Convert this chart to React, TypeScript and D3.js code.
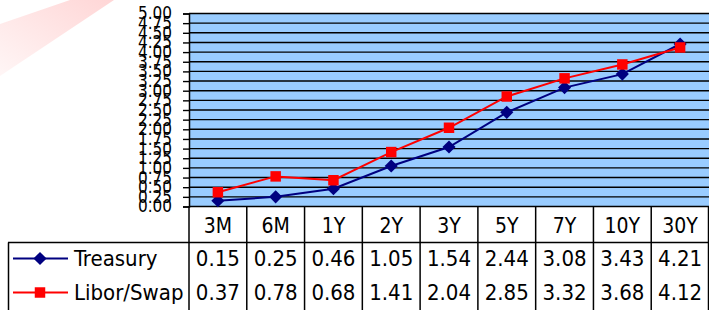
import React, { useRef, useEffect } from 'react';
import * as d3 from 'd3';

const categories = ['3M', '6M', '1Y', '2Y', '3Y', '5Y', '7Y', '10Y', '30Y'];
const treasury = [0.15, 0.25, 0.46, 1.05, 1.54, 2.44, 3.08, 3.43, 4.21];
const liborSwap = [0.37, 0.78, 0.68, 1.41, 2.04, 2.85, 3.32, 3.68, 4.12];
const yTicks = d3.range(0, 5.001, 0.25);

const seriesList = [
    { name: 'Treasury', values: treasury, color: '#000080', marker: 'diamond' },
    { name: 'Libor/Swap', values: liborSwap, color: '#ff0000', marker: 'square' },
];

const FONT = '"DejaVu Sans Condensed", "DejaVu Sans", sans-serif';

const App: React.FC = () => {
    const svgRef = useRef<SVGSVGElement>(null);

    useEffect(() => {
        if (!svgRef.current) return;

        const width = 709;
        const height = 310;
        const plotLeft = 189;
        const plotRight = 709;
        const plotTop = 13.5;
        const plotBottom = 206.5;
        const headerBottom = 242.5;
        const rowH = 34;

        const svg = d3.select(svgRef.current);
        svg.selectAll('*').remove();
        svg.attr('width', width).attr('height', height);

        // faint watermark stripe in the corner
        const grad = svg.append('defs').append('linearGradient')
            .attr('id', 'wm').attr('x1', '0').attr('y1', '1').attr('x2', '1').attr('y2', '0');
        grad.append('stop').attr('offset', '0').attr('stop-color', '#fff6f6');
        grad.append('stop').attr('offset', '1').attr('stop-color', '#ffd6d6');
        svg.append('polygon')
            .attr('points', '0,24 70,0 114,0 0,76')
            .attr('fill', 'url(#wm)');

        const x = d3.scaleBand<string>()
            .domain(categories)
            .range([plotLeft, plotRight]);

        const y = d3.scaleLinear()
            .domain([0, 5])
            .range([plotBottom, plotTop]);

        // plot background
        svg.append('rect')
            .attr('x', plotLeft).attr('y', plotTop)
            .attr('width', plotRight - plotLeft).attr('height', plotBottom - plotTop)
            .attr('fill', '#99ccff');

        // gridlines
        svg.append('g')
            .selectAll('line')
            .data(yTicks)
            .enter()
            .append('line')
            .attr('x1', plotLeft).attr('x2', plotRight)
            .attr('y1', d => y(d)).attr('y2', d => y(d))
            .attr('stroke', '#000').attr('stroke-width', 1.4);

        // y axis
        const yAxis = svg.append('g')
            .attr('transform', `translate(${plotLeft},0)`)
            .call(d3.axisLeft(y).tickValues(yTicks).tickFormat(d3.format('.2f')).tickSize(6).tickPadding(11));
        yAxis.select('.domain').attr('stroke', '#000').attr('stroke-width', 1.5);
        yAxis.selectAll('.tick line').attr('stroke', '#000').attr('stroke-width', 1.4);
        yAxis.selectAll('text')
            .attr('fill', '#000')
            .style('font-family', FONT)
            .style('font-size', '17px');

        const symbolFor = (marker: string) => d3.symbol()
            .type(marker === 'diamond' ? d3.symbolDiamond2 : d3.symbolSquare2)
            .size(marker === 'diamond' ? 110 : 140)();

        // series lines + markers
        seriesList.forEach(s => {
            const line = d3.line<number>()
                .x((_, i) => x(categories[i])! + x.bandwidth() / 2)
                .y(d => y(d));
            svg.append('path')
                .datum(s.values)
                .attr('d', line)
                .attr('fill', 'none')
                .attr('stroke', s.color)
                .attr('stroke-width', 2);

            svg.append('g')
                .selectAll('path')
                .data(s.values)
                .enter()
                .append('path')
                .attr('transform', (d, i) => `translate(${x(categories[i])! + x.bandwidth() / 2},${y(d)})`)
                .attr('d', symbolFor(s.marker)!)
                .attr('fill', s.color);
        });

        // data table
        const table = svg.append('g');
        const lineStyle = (sel: any) => sel.attr('stroke', '#000').attr('stroke-width', 1.5);

        // column separators
        const edges = categories.map(c => x(c)!).concat([plotRight - 0.5]);
        table.selectAll('line.col')
            .data(edges)
            .enter()
            .append('line')
            .attr('class', 'col')
            .attr('x1', d => d).attr('x2', d => d)
            .attr('y1', plotBottom).attr('y2', height)
            .call(lineStyle);

        table.append('line')
            .attr('x1', 8).attr('x2', plotRight)
            .attr('y1', headerBottom).attr('y2', headerBottom)
            .call(lineStyle);
        table.append('line')
            .attr('x1', 8.5).attr('x2', 8.5)
            .attr('y1', headerBottom).attr('y2', height)
            .call(lineStyle);

        table.selectAll('text.cat')
            .data(categories)
            .enter()
            .append('text')
            .attr('class', 'cat')
            .attr('x', d => x(d)! + x.bandwidth() / 2)
            .attr('y', (plotBottom + headerBottom) / 2 + 1)
            .attr('dy', '0.35em')
            .attr('text-anchor', 'middle')
            .style('font-family', FONT)
            .style('font-size', '21px')
            .text(d => d);

        seriesList.forEach((s, r) => {
            const cy = headerBottom + rowH * r + rowH / 2 - 1;
            table.selectAll(`text.v${r}`)
                .data(s.values)
                .enter()
                .append('text')
                .attr('class', `v${r}`)
                .attr('x', (_, i) => x(categories[i])! + x.bandwidth() / 2)
                .attr('y', cy)
                .attr('dy', '0.35em')
                .attr('text-anchor', 'middle')
                .style('font-family', FONT)
                .style('font-size', '22px')
                .text(d => d.toFixed(2));

            // legend key
            table.append('line')
                .attr('x1', 13).attr('x2', 68)
                .attr('y1', cy).attr('y2', cy)
                .attr('stroke', s.color).attr('stroke-width', 2);
            table.append('path')
                .attr('transform', `translate(40,${cy})`)
                .attr('d', symbolFor(s.marker)!)
                .attr('fill', s.color);
            table.append('text')
                .attr('x', 74)
                .attr('y', cy)
                .attr('dy', '0.35em')
                .style('font-family', FONT)
                .style('font-size', '22px')
                .text(s.name);
        });
    }, []);

    return (
        <svg ref={svgRef} style={{ position: 'absolute', left: 0, top: 0, display: 'block' }}></svg>
    );
};

export default App;
